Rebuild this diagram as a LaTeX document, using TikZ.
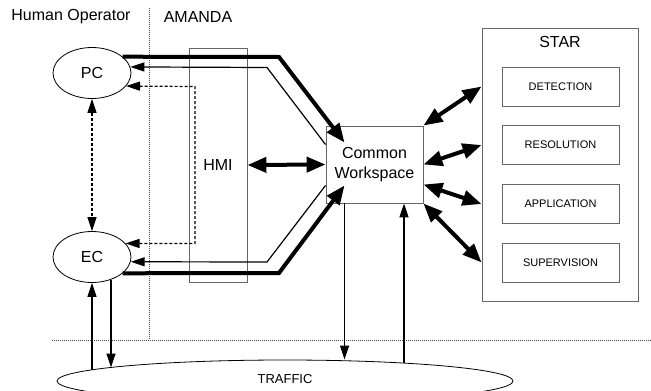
\documentclass[tikz,border=0pt]{standalone}
\usepackage{fontspec}
\setmainfont{Liberation Sans}
\usetikzlibrary{arrows.meta,shapes.geometric}
\begin{document}
\begin{tikzpicture}[x=1pt,y=-1pt,font=\fontsize{16}{20}\selectfont,
    oval/.style={ellipse,draw,line width=0.8pt,inner sep=0pt,minimum width=78pt,minimum height=51pt},
    frame/.style={rectangle,draw=black!60,line width=0.9pt,inner sep=0pt},
    task/.style={frame,minimum width=117pt,minimum height=39pt,font=\fontsize{11}{13}\selectfont},
    flow/.style={line width=1.2pt,-{Triangle[length=14pt,width=9pt]}},
    flowboth/.style={line width=1.2pt,dash pattern=on 3pt off 2pt,{Triangle[length=14pt,width=9pt]}-{Triangle[length=14pt,width=9pt]}},
    heavy/.style={line width=4pt,-{Triangle[length=19pt,width=15pt]}},
    heavyboth/.style={line width=4pt,{Triangle[length=19pt,width=15pt]}-{Triangle[length=19pt,width=15pt]}},
    sep/.style={line width=0.6pt,black!70,dash pattern=on 1pt off 1pt}]
      \useasboundingbox (0,0) rectangle (651,391);
      % separators
      \draw[sep] (149,8) -- (149,340);
      \draw[sep] (52,340) -- (651,340);
      \node (operator) at (71,17) {Human Operator};
      \node (amanda) at (198,17) {AMANDA};
      \node[oval] (pc) at (92,73) {PC};
      \node[oval] (ec) at (92,257) {EC};
      \node[frame,minimum width=58pt,minimum height=234pt] (hmi) at (218,165) {HMI};
      \node[frame,minimum width=97pt,minimum height=77pt,align=center] (cw) at (374.5,164.5) {Common\\Workspace};
      \node[frame,minimum width=156pt,minimum height=273pt] (star) at (560,164.5) {};
      \node (starname) at (560,42) {STAR};
      \node[task] (det) at (560.5,86.5) {DETECTION};
      \node[task] (res) at (560.5,145) {RESOLUTION};
      \node[task] (app) at (560.5,204) {APPLICATION};
      \node[task] (sup) at (560.5,262.5) {SUPERVISION};
      \node[ellipse,draw,line width=0.8pt,inner sep=0pt,minimum width=456pt,minimum height=42pt] (traffic) at (285,381) {};
      \node[font=\fontsize{13}{15}\selectfont] (trafficname) at (285,379) {TRAFFIC};
      % points where the arrows meet the traffic ellipse
      \coordinate (cwdown) at ([xshift=19pt]cw.south west);
      \coordinate (cwup) at ([xshift=-19pt]cw.south east);
      \coordinate (trafficup) at (404,363);
      \coordinate (trafficec) at (92,370);
      \coordinate (trafficin) at (111,367.5);
      \begin{scope}
        \draw[heavy] (pc.28) -- (279,57) -- ([shift={(19pt,-17pt)}]cw.north west);
        \draw[flow] ([yshift=-19pt]cw.north west) -- (267,67.5) -- (pc.9);
        \draw[flowboth] (pc.-21) -- (195,86.5) -- (195,243.5) -- (ec.22);
        \draw[flow] ([yshift=18pt]cw.south west) -- (267,262) -- (ec.-7);
        \draw[heavy] (ec.-28) -- (279,273) -- ([shift={(19pt,18pt)}]cw.south west);
        \draw[flowboth] (pc.south) -- (ec.north);
        \draw[heavyboth] (hmi.east) -- (cw.west);
        \draw[heavyboth] (cw.north east) -- (star.west |- det);
        \draw[heavyboth] (cw.east) -- (star.west |- res);
        \draw[heavyboth] ([yshift=-20pt]cw.east) -- (star.west |- app);
        \draw[heavyboth] (cw.south east) -- (star.west |- sup);
        \draw[flow] (cwdown) -- (cwdown |- traffic.north);
        \draw[flow] (trafficup) -- (trafficup |- cwup);
        \draw[flow] (trafficec) -- (trafficec |- ec.south);
        \draw[flow] (trafficin |- ec.-50) -- (trafficin);
      \end{scope}
    \end{tikzpicture}
\end{document}
